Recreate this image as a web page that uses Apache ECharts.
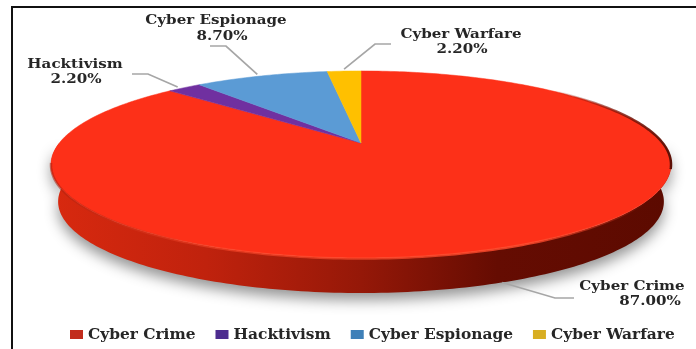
<!DOCTYPE html>
<html>
<head>
<meta charset="utf-8">
<style>html,body{margin:0;padding:0;background:#fff}#chart{width:696px;height:349px}</style>
<script src="https://cdn.jsdelivr.net/npm/echarts@6/dist/echarts.min.js"></script>
</head>
<body>
<div id="chart"></div>
<script>
// Attack motivations, clockwise from twelve o'clock
const categories = ['Cyber Crime', 'Hacktivism', 'Cyber Espionage', 'Cyber Warfare'];
const shares = [87.0, 2.2, 8.7, 2.2];
const faceColors = ['#fd3018', '#7030a0', '#5b9bd5', '#ffc000'];
const legendColors = ['#c22c1c', '#4d2c8f', '#3f80b8', '#d8ae22'];

// Callout placement: centre of name, centre of value, elbow and tail of the leader
const calloutName = [[632, 287], [75, 65], [216, 21], [461, 35]];
const calloutValue = [[650, 302], [76, 80], [222, 37], [462, 50]];
const calloutElbow = [[555, 298], [148, 74], [226, 46], [375, 44]];
const calloutTail = [[574, 298], [132, 74], [210, 46], [391, 44]];
const calloutBias = [1.4, -1.8, -1, 0];

// Tilted disc: a unit circle seen in perspective, hub off the ellipse centre
const HUB_X = 361, HUB_Y = 143;
const SPREAD_X = 301.7, SPREAD_Y = 88.6, TILT = 0.23;
const DEPTH = 37.6, BASE_SCALE = 0.977;

function rimPoint(deg, drop, scale) {
  const r = deg * Math.PI / 180;
  const u = Math.sin(r), v = -Math.cos(r), w = 1 - TILT * v;
  return [HUB_X + scale * SPREAD_X * u / w, HUB_Y + drop + scale * SPREAD_Y * v / w];
}
function arc(from, to, drop, scale) {
  const pts = [], n = Math.max(2, Math.ceil(Math.abs(to - from)));
  for (let i = 0; i <= n; i++) pts.push(rimPoint(from + (to - from) * i / n, drop, scale));
  return pts;
}

const total = shares.reduce((a, b) => a + b, 0);
const sweep = [];
shares.reduce((acc, s) => { sweep.push([acc, acc + s / total * 360]); return acc + s / total * 360; }, 0);

const serif = '"DejaVu Serif", "Liberation Serif", serif';
const FRONT_FROM = 90, FRONT_TO = 270;
const LinearGradient = echarts.graphic.LinearGradient;

function renderWall(params) {
  const i = params.dataIndex;
  const from = Math.max(sweep[i][0], FRONT_FROM), to = Math.min(sweep[i][1], FRONT_TO);
  if (to <= from) return { type: 'group', children: [] };
  const pts = arc(from, to, 0, 1).concat(arc(to, from, DEPTH, BASE_SCALE));
  return {
    type: 'polygon',
    shape: { points: pts },
    style: {
      fill: new LinearGradient(0, 0, 1, 0, [
        { offset: 0, color: '#d8290f' },
        { offset: 0.25, color: '#c0220d' },
        { offset: 0.5, color: '#951808' },
        { offset: 0.72, color: '#650c02' },
        { offset: 1, color: '#5c0a00' }
      ]),
      shadowBlur: 14,
      shadowOffsetY: 7,
      shadowColor: 'rgba(0,0,0,0.42)'
    }
  };
}

function renderSlice(params) {
  const i = params.seriesIndex - 1;
  const [from, to] = sweep[i];
  const children = [{
    type: 'polygon',
    shape: { points: [[HUB_X, HUB_Y]].concat(arc(from, to, 0, 1)) },
    style: { fill: faceColors[i], stroke: faceColors[i], lineWidth: 0.5 }
  }];
  if (i === 0) {
    // Soft light edge where the disc meets the wall, fading towards the ends
    children.push({
      type: 'polyline',
      shape: { points: arc(125, 258, 0.5, 1) },
      style: {
        fill: 'none', lineWidth: 2.5,
        stroke: new LinearGradient(0, 0, 1, 0, [
          { offset: 0, color: 'rgba(170,30,12,0.55)' },
          { offset: 0.3, color: 'rgba(255,75,45,0.55)' },
          { offset: 0.8, color: 'rgba(255,75,45,0.85)' },
          { offset: 1, color: 'rgba(255,75,45,0)' }
        ])
      }
    });
    // Darker far-right rim that grows in from the back of the disc
    children.push({
      type: 'polyline',
      shape: { points: arc(48, 106, 0, 1) },
      style: {
        fill: 'none', lineWidth: 2.5,
        stroke: new LinearGradient(0, 0, 1, 0, [
          { offset: 0, color: 'rgba(120,20,8,0)' },
          { offset: 0.55, color: 'rgba(120,20,8,0.75)' },
          { offset: 1, color: 'rgba(90,14,4,1)' }
        ])
      }
    });
  }
  // Leader line from the rim near the slice's mid angle
  const mid = (from + to) / 2 + calloutBias[i];
  const anchor = i === 0 ? rimPoint(mid, DEPTH, BASE_SCALE) : rimPoint(mid, -2, 1);
  children.push({
    type: 'polyline',
    shape: { points: [calloutTail[i], calloutElbow[i], anchor] },
    style: { fill: 'none', stroke: '#a6a6a6', lineWidth: 1.7 }
  });
  const textOf = (t, p) => ({
    type: 'text',
    x: p[0], y: p[1], scaleX: 1.16,
    style: { text: t, align: 'center', verticalAlign: 'middle', fill: '#262626',
      font: 'bold 13px ' + serif }
  });
  children.push(textOf(categories[i], calloutName[i]));
  children.push(textOf(shares[i].toFixed(2) + '%', calloutValue[i]));
  return { type: 'group', children };
}

const series = [{
  type: 'custom', name: 'wall', coordinateSystem: 'none', z: 1, silent: true,
  data: shares.map(s => [s]), renderItem: renderWall
}].concat(categories.map((name, i) => ({
  type: 'custom', name, coordinateSystem: 'none', z: 2, silent: true,
  itemStyle: { color: faceColors[i] },
  data: [[shares[i]]], renderItem: renderSlice
})));

const chart = echarts.init(document.getElementById('chart'), null, { renderer: 'canvas' });
chart.setOption({
  animation: false,
  backgroundColor: '#ffffff',
  graphic: [{
    type: 'rect', silent: true, z: 0,
    shape: { x: 12, y: 7, width: 900, height: 600 },
    style: { fill: 'none', stroke: '#111111', lineWidth: 2 }
  }],
  legend: {
    left: 65, top: 322,
    selectedMode: false,
    icon: 'rect', itemWidth: 13, itemHeight: 9, itemGap: 20,
    textStyle: { fontFamily: serif, fontWeight: 'bold', fontSize: 15.4, color: '#262626' },
    data: categories.map((name, i) => ({ name, itemStyle: { color: legendColors[i] } }))
  },
  series
});
</script>
</body>
</html>
